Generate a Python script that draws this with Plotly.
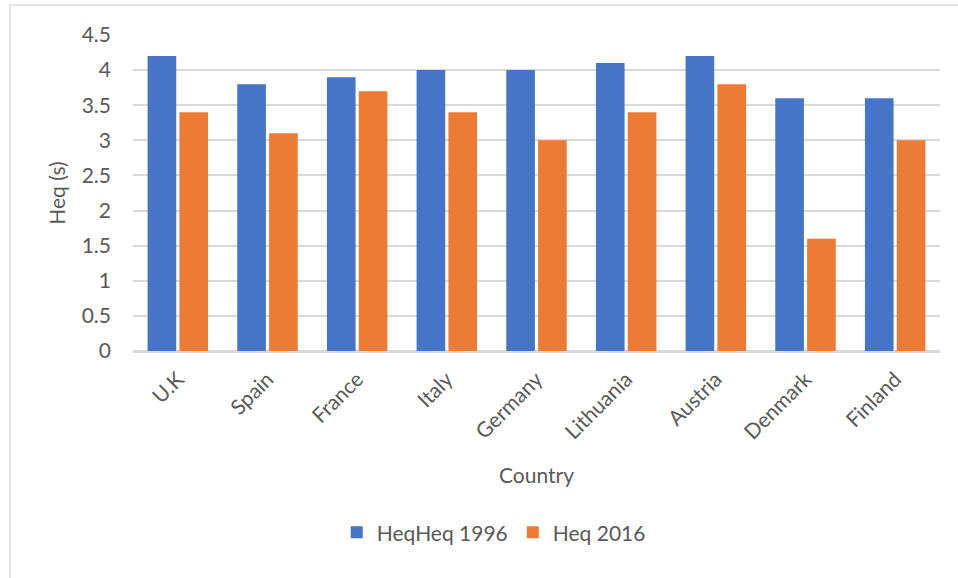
import plotly.graph_objects as go

countries = ["U.K", "Spain", "France", "Italy", "Germany", "Lithuania", "Austria", "Denmark", "Finland"]
heq_1996 = [4.2, 3.8, 3.9, 4.0, 4.0, 4.1, 4.2, 3.6, 3.6]
heq_2016 = [3.4, 3.1, 3.7, 3.4, 3.0, 3.4, 3.8, 1.6, 3.0]
series_names = ["HeqHeq 1996", "Heq 2016"]
y_ticks = [0, 0.5, 1, 1.5, 2, 2.5, 3, 3.5, 4, 4.5]
y_tick_labels = ["0", "0.5", "1", "1.5", "2", "2.5", "3", "3.5", "4", "4.5"]

FONT = "Lato"
GRAY = "#595959"
FS = 21

fig = go.Figure()
fig.add_trace(go.Bar(x=countries, y=heq_1996, name=series_names[0],
                     marker=dict(color="#4674C6", line=dict(width=0))))
fig.add_trace(go.Bar(x=countries, y=heq_2016, name=series_names[1],
                     marker=dict(color="#EC7B35", line=dict(width=0))))

fig.update_layout(
    width=958, height=578,
    margin=dict(l=133, r=18, t=35, b=227, autoexpand=False),
    paper_bgcolor="white", plot_bgcolor="white",
    barmode="group", bargap=0.29, bargroupgap=0.1,
    font=dict(family=FONT, color=GRAY, size=FS),
    showlegend=True,
    legend=dict(orientation="h", x=0.447, xanchor="center", y=-0.575, yanchor="middle",
                font=dict(size=FS, color=GRAY), itemwidth=30, traceorder="normal"),
    xaxis=dict(tickangle=-45, showgrid=False, showline=True, linecolor="#D9D9D9", linewidth=1.5,
               ticks="", tickfont=dict(size=FS, color=GRAY), automargin=False,
               ticklabelstandoff=6,
               title=dict(text="Country", font=dict(size=FS, color=GRAY), standoff=26)),
    yaxis=dict(range=[0, 4.5], tickvals=y_ticks, ticktext=y_tick_labels,
               showgrid=True, gridcolor="#D9D9D9", gridwidth=1.5,
               zeroline=True, zerolinecolor="#D9D9D9", zerolinewidth=1.5,
               ticks="", tickfont=dict(size=FS, color=GRAY), automargin=False,
               ticklabelstandoff=21,
               title=dict(text="Heq (s)", font=dict(size=FS, color=GRAY), standoff=10)),
    shapes=[dict(type="rect", xref="paper", yref="paper",
                 x0=(10 - 133) / 807, x1=(980 - 133) / 807,
                 y0=(316 - (600 - 35)) / 316, y1=(316 + 30) / 316,
                 line=dict(color="#D9D9D9", width=1.5), fillcolor="rgba(0,0,0,0)", layer="below")],
)

fig.write_html("out.html")
